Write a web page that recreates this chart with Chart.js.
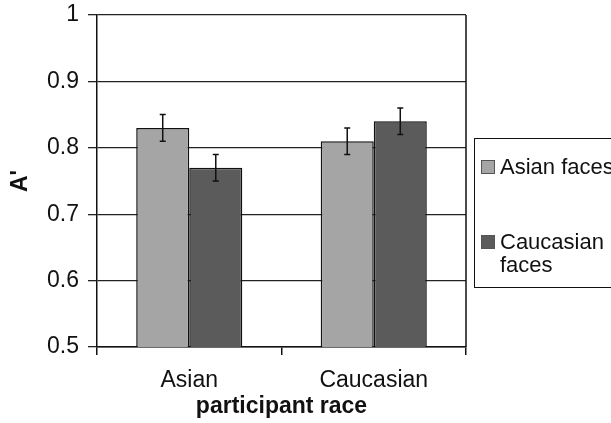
<!DOCTYPE html>
<html lang="en">
<head>
    <meta charset="UTF-8">
    <script src="https://cdn.jsdelivr.net/npm/chart.js"></script>
    <style>
        body, html {
            margin: 0;
            padding: 0;
            width: 611px;
            height: 423px;
            overflow: hidden;
            background: #fff;
            font-family: "Liberation Sans", Arial, sans-serif;
        }
        #wrap {
            position: relative;
            width: 611px;
            height: 423px;
        }
        #legend {
            position: absolute;
            left: 474px;
            top: 138px;
            width: 170px;
            height: 150px;
            border: 1.5px solid #111;
            box-sizing: border-box;
            font-size: 22px;
            line-height: 23px;
            color: #111;
        }
        .item {
            position: absolute;
            left: 6px;
            display: flex;
            align-items: flex-start;
        }
        .swatch {
            width: 12px;
            height: 12px;
            border: 1px solid #555;
            margin-top: 5px;
            margin-right: 5px;
            flex: none;
        }
        .lbl { width: 120px; }
    </style>
</head>
<body>
<div id="wrap">
    <canvas id="chart" width="611" height="423"></canvas>
    <div id="legend"></div>
</div>
<script>
    const categories = ['Asian', 'Caucasian'];
    const seriesNames = ['Asian faces', 'Caucasian faces'];
    const asianFaces = [0.83, 0.81];
    const caucasianFaces = [0.77, 0.84];
    const asianFacesErr = [0.02, 0.02];
    const caucasianFacesErr = [0.02, 0.02];
    const yTickLabels = ['0.5', '0.6', '0.7', '0.8', '0.9', '1'];
    const colors = ['#a5a5a5', '#5b5b5b'];

    const FONT = '"Liberation Sans", Arial, sans-serif';

    // error bars + right border of the plot box
    const extras = {
        id: 'extras',
        afterDatasetsDraw(chart) {
            const ctx = chart.ctx;
            const y = chart.scales.y;
            ctx.save();
            ctx.strokeStyle = '#111';
            ctx.lineWidth = 1.5;
            chart.data.datasets.forEach((ds, di) => {
                const meta = chart.getDatasetMeta(di);
                meta.data.forEach((bar, i) => {
                    const v = ds.data[i], e = ds.err[i];
                    const top = y.getPixelForValue(v + e);
                    const bot = y.getPixelForValue(v - e);
                    ctx.beginPath();
                    ctx.moveTo(bar.x, top); ctx.lineTo(bar.x, bot);
                    ctx.moveTo(bar.x - 3, top); ctx.lineTo(bar.x + 3, top);
                    ctx.moveTo(bar.x - 3, bot); ctx.lineTo(bar.x + 3, bot);
                    ctx.stroke();
                });
            });
            const a = chart.chartArea;
            ctx.beginPath();
            ctx.moveTo(a.right, a.top);
            ctx.lineTo(a.right, a.bottom);
            ctx.stroke();
            ctx.restore();
        }
    };

    new Chart(document.getElementById('chart'), {
        type: 'bar',
        data: {
            labels: categories,
            datasets: [
                { label: seriesNames[0], data: asianFaces, err: asianFacesErr, backgroundColor: colors[0] },
                { label: seriesNames[1], data: caucasianFaces, err: caucasianFacesErr, backgroundColor: colors[1] }
            ].map(d => Object.assign(d, {
                borderColor: '#111', borderWidth: 1.5, borderSkipped: false,
                categoryPercentage: 0.575, barPercentage: 1
            }))
        },
        options: {
            responsive: false,
            animation: false,
            layout: { padding: { top: 15, right: 145, left: 0, bottom: 0 } },
            plugins: { legend: { display: false }, tooltip: { enabled: false } },
            scales: {
                x: {
                    afterFit: s => { s.height = 76; s.paddingLeft = 0; s.paddingRight = 0; },
                    grid: { drawOnChartArea: false, offset: true, tickLength: 8, color: '#111', lineWidth: 1.5 },
                    border: { color: '#111', width: 1.5 },
                    ticks: { color: '#111', padding: 12, font: { family: FONT, size: 23 } },
                    title: {
                        display: true, text: 'participant race', color: '#111',
                        font: { family: FONT, size: 23, weight: 'bold' },
                        padding: { top: 0, bottom: 3 }
                    }
                },
                y: {
                    min: 0.5, max: 1,
                    afterFit: s => { s.width = 97; s.paddingTop = 0; s.paddingBottom = 0; },
                    grid: { color: '#222', lineWidth: 1.3, tickLength: 9 },
                    border: { color: '#111', width: 1.5 },
                    ticks: {
                        stepSize: 0.1, color: '#111', padding: 9, font: { family: FONT, size: 23 },
                        callback: (v, i) => yTickLabels[i]
                    },
                    title: {
                        display: true, text: "A'", color: '#111',
                        font: { family: FONT, size: 23, weight: 'bold' },
                        padding: { top: 7, bottom: 0 }
                    }
                }
            }
        },
        plugins: [extras]
    });

    // boxed legend on the right, partly cut off like the original
    const legend = document.getElementById('legend');
    const tops = [16, 91];
    seriesNames.forEach((name, i) => {
        const item = document.createElement('div');
        item.className = 'item';
        item.style.top = tops[i] + 'px';
        item.innerHTML = '<div class="swatch" style="background:' + colors[i] + '"></div><div class="lbl">' + name + '</div>';
        legend.appendChild(item);
    });
</script>
</body>
</html>
